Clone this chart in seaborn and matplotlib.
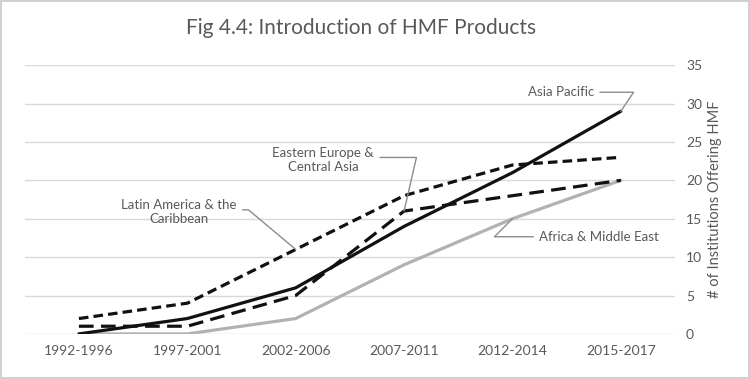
import matplotlib.pyplot as plt
import pandas as pd
import seaborn as sns

# Data
periods = ['1992-1996', '1997-2001', '2002-2006', '2007-2011', '2012-2014', '2015-2017']
africa = [0, 0, 2, 9, 15, 20]
eastern_europe = [1, 1, 5, 16, 18, 20]
latin_america = [2, 4, 11, 18, 22, 23]
asia_pacific = [0, 2, 6, 14, 21, 29]

regions = ['Africa & Middle East', 'Eastern Europe & Central Asia',
           'Latin America & the Caribbean', 'Asia Pacific']
series = [africa, eastern_europe, latin_america, asia_pacific]

rows = []
for name, vals in zip(regions, series):
    for p, v in zip(periods, vals):
        rows.append({'period': p, 'region': name, 'count': v})
df = pd.DataFrame(rows)

sns.set_style('white')
plt.rcParams['font.family'] = ['Lato', 'DejaVu Sans']
txt = '#595959'

fig = plt.figure(figsize=(7.5, 3.79), dpi=100)
fig.patch.set_edgecolor('#d0d0d0')
fig.patch.set_linewidth(1.5)
ax = fig.add_axes([0.033, 0.119, 0.867, 0.709])

palette = {regions[0]: '#b2b2b2', regions[1]: '#111111',
           regions[2]: '#111111', regions[3]: '#111111'}
dashes = {regions[0]: '', regions[1]: (4.6, 2.3),
          regions[2]: (3.0, 1.6), regions[3]: ''}
sns.lineplot(data=df, x='period', y='count', hue='region', style='region',
             hue_order=regions, style_order=regions, palette=palette,
             dashes=dashes, sort=False, legend=False, linewidth=2.3, ax=ax)

ax.set_xlim(-0.5, 5.5)
ax.set_ylim(0, 35)
ax.set_yticks(range(0, 36, 5))
ax.yaxis.tick_right()
ax.yaxis.set_label_position('right')
ax.grid(axis='y', color='#d9d9d9', linewidth=1)
ax.set_axisbelow(True)
for s in ax.spines.values():
    s.set_visible(False)
ax.tick_params(axis='both', length=0, labelsize=10, labelcolor=txt, pad=8)
ax.tick_params(axis='y', pad=8)
ax.set_xlabel('')
ax.set_ylabel('# of Institutions Offering HMF', color=txt, fontsize=10.5, labelpad=4)

fig.text(0.482, 0.925, 'Fig 4.4: Introduction of HMF Products', color=txt,
         fontsize=15, ha='center', va='center')

lead = '#8c8c8c'
ann = dict(textcoords='offset pixels', color=txt, fontsize=9.5, va='center')


def leader(angle, rel):
    return dict(arrowstyle='-', color=lead, lw=1, relpos=rel,
                shrinkA=2, shrinkB=0,
                connectionstyle='angle,angleA=0,angleB=%d,rad=0' % angle)


ax.annotate('Asia Pacific', xy=(5, asia_pacific[5]), xytext=(-27, 19), ha='right',
            arrowprops=leader(56, (1, 0.5)), **ann)
ax.annotate('Eastern Europe &\nCentral Asia', xy=(3, eastern_europe[3]), xytext=(-81, 51),
            ha='center', multialignment='center', arrowprops=leader(77, (1, 0.6)), **ann)
ax.annotate('Latin America & the\nCaribbean', xy=(2, latin_america[2]), xytext=(-117, 37),
            ha='center', multialignment='center', arrowprops=leader(-40, (1, 0.6)), **ann)
ax.annotate('Africa & Middle East', xy=(4, africa[4]), xytext=(27, -18), ha='left',
            arrowprops=leader(45, (0, 0.5)), **ann)

fig.savefig('out.png', dpi=100)
